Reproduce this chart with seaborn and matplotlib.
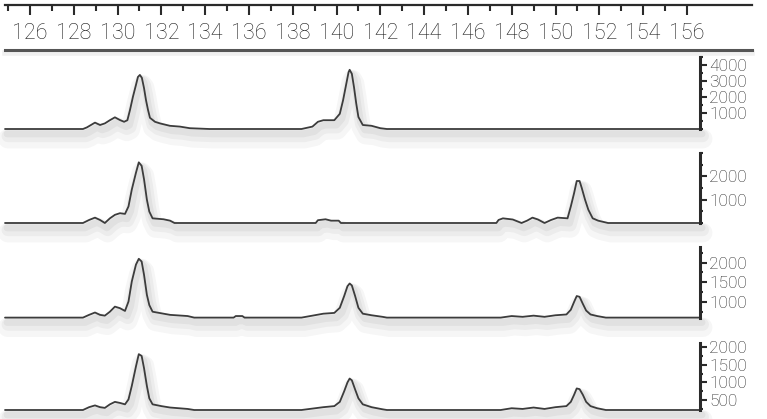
import matplotlib
matplotlib.use("Agg")
import matplotlib.pyplot as plt
import matplotlib.patheffects as pe
from matplotlib.ticker import MultipleLocator, FixedLocator
import seaborn as sns

# fragment sizes (bp) on the ruler
ruler_major = [126, 128, 130, 132, 134, 136, 138, 140, 142, 144, 146, 148, 150, 152, 154, 156]
ruler_minor = [125, 127, 129, 131, 133, 135, 137, 139, 141, 143, 145, 147, 149, 151, 153, 155]

# trace 1
p1_size = [124.86, 128.42, 128.6, 128.97, 129.2, 129.42, 129.65, 129.88, 130.11, 130.3,
           130.45, 130.57, 130.7, 130.84, 130.93, 131.02, 131.11, 131.21, 131.3, 131.39,
           131.48, 131.71, 131.94, 132.39, 132.85, 133.3, 134.2, 138.4, 138.9, 139.15,
           139.4, 139.9, 140.15, 140.3, 140.45, 140.55, 140.6, 140.7, 140.8, 140.9,
           141.0, 141.2, 141.6, 142.0, 142.3, 156.6]
p1_rfu = [0, 0, 100, 400, 250, 350, 550, 730, 560, 450,
          550, 1200, 2000, 2750, 3250, 3380, 3200, 2550, 1800, 1200,
          700, 450, 350, 200, 150, 50, 0, 0, 150, 450,
          550, 550, 950, 1800, 2850, 3550, 3700, 3450, 2600, 1600,
          750, 250, 200, 50, 0, 0]
p1_ticks = [1000, 2000, 3000, 4000]

# trace 2
p2_size = [124.86, 128.42, 128.7, 128.97, 129.2, 129.42, 129.65, 129.88, 130.11, 130.34,
           130.5, 130.65, 130.84, 130.97, 131.1, 131.21, 131.34, 131.45, 131.6, 132.1,
           132.4, 132.6, 139.05, 139.15, 139.5, 139.75, 140.1, 140.2, 147.3, 147.4,
           147.6, 148.05, 148.45, 148.7, 148.95, 149.2, 149.5, 149.8, 150.1, 150.55,
           150.7, 150.85, 150.97, 151.1, 151.2, 151.35, 151.5, 151.7, 151.95, 152.4,
           156.6]
p2_rfu = [0, 0, 130, 230, 130, 0, 200, 350, 420, 390,
          710, 1430, 2150, 2600, 2450, 1870, 1000, 490, 200, 160,
          100, 0, 0, 120, 160, 100, 100, 0, 0, 130,
          200, 150, 0, 100, 230, 150, 0, 130, 230, 200,
          710, 1280, 1800, 1800, 1500, 1000, 570, 200, 100, 0,
          0]
p2_ticks = [1000, 2000]

# trace 3
p3_size = [124.86, 128.42, 128.7, 128.97, 129.2, 129.42, 129.65, 129.88, 130.11, 130.34,
           130.5, 130.65, 130.84, 130.97, 131.1, 131.21, 131.34, 131.45, 131.6, 132.0,
           132.4, 133.2, 133.5, 135.3, 135.4, 135.7, 135.8, 138.4, 138.9, 139.4,
           139.9, 140.15, 140.35, 140.5, 140.6, 140.7, 140.85, 141.0, 141.2, 141.6,
           142.1, 142.3, 147.5, 148.0, 148.5, 149.0, 149.5, 150.0, 150.5, 150.7,
           150.85, 150.97, 151.1, 151.25, 151.4, 151.6, 151.9, 152.3, 156.6]
p3_rfu = [600, 600, 670, 730, 670, 650, 750, 880, 840, 770,
          1010, 1520, 1950, 2100, 2030, 1690, 1180, 920, 750, 710,
          670, 640, 600, 600, 640, 640, 600, 600, 650, 700,
          720, 850, 1150, 1400, 1470, 1420, 1150, 850, 700, 660,
          620, 600, 600, 640, 620, 650, 620, 660, 680, 800,
          1000, 1150, 1130, 950, 780, 680, 640, 600, 600]
p3_ticks = [1000, 1500, 2000]

# trace 4
p4_size = [124.86, 128.42, 128.7, 128.97, 129.2, 129.42, 129.65, 129.88, 130.11, 130.34,
           130.5, 130.65, 130.84, 130.97, 131.1, 131.21, 131.34, 131.45, 131.6, 132.0,
           132.4, 133.2, 133.5, 138.4, 138.9, 139.4, 139.9, 140.15, 140.35, 140.5,
           140.6, 140.7, 140.85, 141.0, 141.2, 141.6, 142.1, 142.3, 147.5, 148.0,
           148.5, 149.0, 149.5, 150.0, 150.5, 150.7, 150.85, 150.97, 151.1, 151.25,
           151.4, 151.6, 151.9, 152.3, 156.6]
p4_rfu = [220, 220, 300, 350, 300, 280, 380, 450, 420, 380,
          520, 900, 1450, 1800, 1750, 1400, 900, 550, 380, 330,
          290, 250, 220, 220, 260, 300, 330, 450, 750, 1000,
          1110, 1060, 800, 550, 380, 300, 240, 220, 220, 270,
          250, 290, 250, 300, 330, 450, 650, 830, 810, 650,
          450, 330, 270, 220, 220]
p4_ticks = [500, 1000, 1500, 2000]

sns.set_style("white")
plt.rcParams["font.family"] = ["Roboto", "DejaVu Sans"]

W, H = 767, 419
INK = "#3c3c3c"


def box(x0, y0, x1, y1):
    """pixel box (top-left origin) -> figure fraction rect"""
    return [x0 / W, 1 - y1 / H, (x1 - x0) / W, (y1 - y0) / H]


def shadow():
    return [
        pe.Stroke(offset=(2, -7), linewidth=14, foreground="black", alpha=0.035),
        pe.Stroke(offset=(2, -5), linewidth=9, foreground="black", alpha=0.04),
        pe.Stroke(offset=(1.5, -3.5), linewidth=5, foreground="black", alpha=0.045),
        pe.Normal(),
    ]


fig = plt.figure(figsize=(W / 100, H / 100), dpi=100)

# ruler on top
ruler = fig.add_axes(box(5, 5, 752, 50))
ruler.set_xlim(124.86, 158.97)
ruler.set_ylim(0, 1)
ruler.set_yticks([])
for s in ["left", "right"]:
    ruler.spines[s].set_visible(False)
ruler.spines["top"].set_linewidth(1.6)
ruler.spines["top"].set_color("#2a2a2a")
ruler.spines["bottom"].set_linewidth(2.2)
ruler.spines["bottom"].set_color("#555555")
ruler.spines["bottom"].set_path_effects([
    pe.Stroke(offset=(0, -2), linewidth=4, foreground="black", alpha=0.06), pe.Normal()])
ruler.xaxis.tick_top()
ruler.set_xticks(ruler_major)
ruler.set_xticklabels([])
ruler.xaxis.set_minor_locator(FixedLocator(ruler_minor))
ruler.tick_params(axis="x", which="major", direction="in", length=7, width=1.5, color="#2a2a2a")
ruler.tick_params(axis="x", which="minor", direction="in", length=4, width=1.5, color="#2a2a2a")
for v in ruler_major:
    ruler.text(v, 0.245, str(v), ha="center", va="baseline", fontsize=15.5,
               fontweight="light", color="#1e1e1e")

panels = [
    (p1_size, p1_rfu, p1_ticks, (0, 4500), 500, (57, 129)),
    (p2_size, p2_rfu, p2_ticks, (0, 3000), 500, (153, 223)),
    (p3_size, p3_rfu, p3_ticks, (590, 2400), 250, (247, 318)),
    (p4_size, p4_rfu, p4_ticks, (220, 2115), 250, (343, 410)),
]

for size, rfu, ticks, ylim, minor, (top, bottom) in panels:
    ax = fig.add_axes(box(5, top, 700, bottom))
    sns.lineplot(x=size, y=rfu, ax=ax, color=INK, linewidth=1.3, estimator=None,
                 sort=False, clip_on=False, path_effects=shadow())
    ax.set_xlim(124.86, 156.6)
    ax.set_ylim(*ylim)
    ax.set_xticks([])
    ax.set_xlabel("")
    ax.set_ylabel("")
    for s in ["left", "top", "bottom"]:
        ax.spines[s].set_visible(False)
    ax.spines["right"].set_linewidth(2.2)
    ax.spines["right"].set_color("#2a2a2a")
    ax.yaxis.tick_right()
    ax.set_yticks(ticks)
    ax.set_yticklabels([str(t) for t in ticks], fontweight="light")
    ax.yaxis.set_minor_locator(MultipleLocator(minor))
    ax.tick_params(axis="y", which="major", direction="out", length=5, width=1.5,
                   color="#2a2a2a", pad=1.5, labelsize=12.5, labelcolor="#262626")
    ax.tick_params(axis="y", which="minor", direction="out", length=2.5, width=1.5,
                   color="#2a2a2a")
    ax.patch.set_alpha(0)

fig.savefig("out.png", dpi=100)
